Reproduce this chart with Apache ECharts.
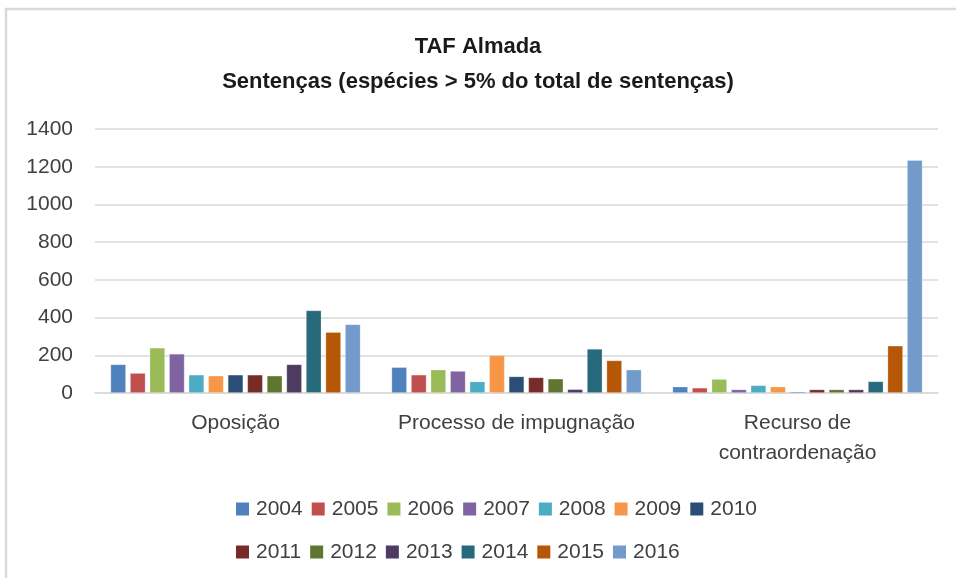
<!DOCTYPE html>
<html>
<head>
<meta charset="utf-8">
<script src="https://cdn.jsdelivr.net/npm/echarts@6/dist/echarts.min.js"></script>
<style>
html,body{margin:0;padding:0;background:#fff;}
#chart{width:956px;height:578px;}
</style>
</head>
<body>
<div id="chart"></div>
<script>
const categories = ["Oposição", "Processo de impugnação", "Recurso de\ncontraordenação"];
const years = ["2004","2005","2006","2007","2008","2009","2010","2011","2012","2013","2014","2015","2016"];
const yearColors = ["#4F81BD","#C0504D","#9BBB59","#8064A2","#4BACC6","#F79646","#2C4D75","#772C2A","#5F7530","#4D3B62","#276A7C","#B65708","#729ACA"];
const v2004 = [152, 137, 34];
const v2005 = [106, 97, 28];
const v2006 = [240, 124, 74];
const v2007 = [208, 117, 19];
const v2008 = [97, 61, 41];
const v2009 = [92, 200, 34];
const v2010 = [97, 88, 7];
const v2011 = [97, 83, 19];
const v2012 = [92, 76, 19];
const v2013 = [152, 20, 19];
const v2014 = [438, 234, 62];
const v2015 = [323, 173, 251];
const v2016 = [364, 124, 1235];
const yTicks = [0, 200, 400, 600, 800, 1000, 1200, 1400];

const seriesValues = [v2004,v2005,v2006,v2007,v2008,v2009,v2010,v2011,v2012,v2013,v2014,v2015,v2016];
const font = "'Liberation Sans', Arial, sans-serif";

const chart = echarts.init(document.getElementById('chart'), null, {renderer:'canvas'});
chart.setOption({
  animation: false,
  backgroundColor: '#ffffff',
  graphic: [{
    type: 'rect',
    shape: {x: 6, y: 9, width: 1200, height: 1000},
    style: {fill: 'none', stroke: '#d9d9d9', lineWidth: 2.5},
    silent: true, z: -1
  }],
  title: {
    text: 'TAF Almada\nSentenças (espécies > 5% do total de sentenças)',
    left: 'center',
    top: 24,
    textStyle: {fontFamily: font, fontSize: 22, fontWeight: 'bold', color: '#1a1a1a', lineHeight: 35}
  },
  legend: {
    data: years,
    left: 231,
    top: 487,
    width: 545,
    icon: 'rect',
    itemWidth: 13,
    itemHeight: 13,
    itemGap: 9,
    itemStyle: {borderWidth: 0},
    textStyle: {fontFamily: font, fontSize: 21, color: '#404040', lineHeight: 34, padding: [0,0,0,2]}
  },
  grid: {left: 95, right: 18, top: 129, bottom: 185, containLabel: false},
  xAxis: {
    type: 'category',
    data: categories,
    axisLine: {lineStyle: {color: '#d9d9d9', width: 1.5}},
    axisTick: {show: false},
    axisLabel: {fontFamily: font, fontSize: 21, color: '#404040', margin: 15, lineHeight: 30, interval: 0}
  },
  yAxis: {
    type: 'value',
    min: yTicks[0],
    max: yTicks[yTicks.length - 1],
    interval: yTicks[1] - yTicks[0],
    axisLine: {show: false},
    axisTick: {show: false},
    axisLabel: {fontFamily: font, fontSize: 21, color: '#404040', margin: 22, formatter: v => String(v)},
    splitLine: {lineStyle: {color: '#d9d9d9', width: 1.5}}
  },
  series: years.map((y, i) => ({
    name: y,
    type: 'bar',
    data: seriesValues[i],
    barGap: '26%',
    barCategoryGap: '11%',
    itemStyle: {color: yearColors[i], borderColor: 'rgba(255,255,255,0.3)', borderWidth: 0.8}
  }))
});
</script>
</body>
</html>
